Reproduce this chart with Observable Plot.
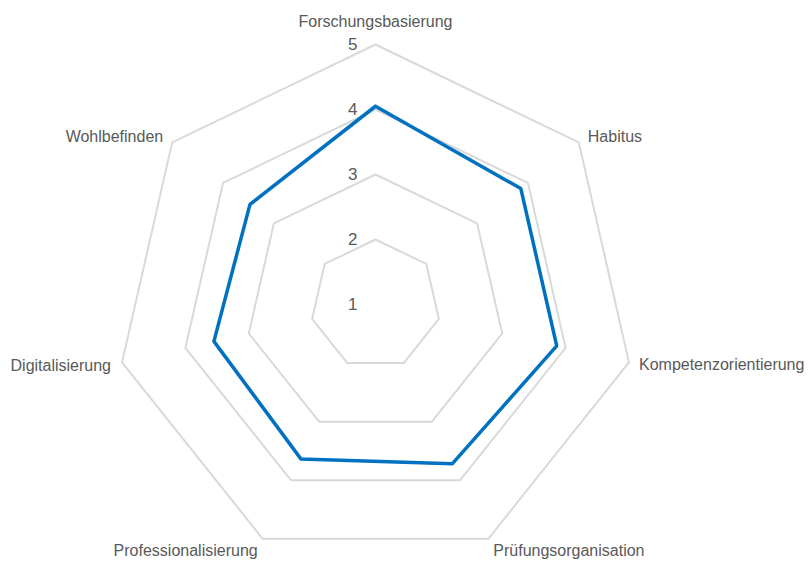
<!DOCTYPE html>
<html>
<head>
<meta charset="utf-8">
<script src="https://cdn.jsdelivr.net/npm/d3@7"></script>
<script src="https://cdn.jsdelivr.net/npm/@observablehq/plot@0.6"></script>
<style>
  html, body { margin: 0; padding: 0; background: #ffffff; }
  #chart svg { display: block; }
</style>
</head>
<body>
<div id="chart"></div>
<script>
const categories = ["Forschungsbasierung", "Habitus", "Kompetenzorientierung", "Prüfungsorganisation", "Professionalisierung", "Digitalisierung", "Wohlbefinden"];
const values = [4.05, 3.86, 3.86, 3.72, 3.64, 3.55, 3.47];
const tickValues = [1, 2, 3, 4, 5];
const gridLevels = [2, 3, 4, 5];
const axisMin = 1;
const axisMax = 5;

const n = categories.length;
const angle = i => (2 * Math.PI * i) / n;
const px = (v, i) => (v - axisMin) * Math.sin(angle(i));
const py = (v, i) => (v - axisMin) * Math.cos(angle(i));

// grid polygons
const gridRows = [];
for (const level of gridLevels) {
  for (let i = 0; i <= n; i++) {
    const k = i % n;
    gridRows.push({level, x: px(level, k), y: py(level, k)});
  }
}

// series
const seriesRows = [];
for (let i = 0; i <= n; i++) {
  const k = i % n;
  seriesRows.push({cat: categories[k], x: px(values[k], k), y: py(values[k], k)});
}

// category labels at outer ring
const labelRows = categories.map((c, i) => ({cat: c, i, x: px(axisMax, i), y: py(axisMax, i)}));
const labelStyle = [
  {anchor: "middle", dx: 0, dy: -23},
  {anchor: "start", dx: 9, dy: -6},
  {anchor: "start", dx: 10, dy: 3},
  {anchor: "start", dx: 5, dy: 12},
  {anchor: "end", dx: -5, dy: 12},
  {anchor: "end", dx: -11, dy: 4},
  {anchor: "end", dx: -9, dy: -6}
];

const font = "'Liberation Sans', Arial, sans-serif";
const textColor = "#595959";

const labelMarks = labelRows.map((r, i) => Plot.text([r], {
  x: "x", y: "y", text: "cat",
  textAnchor: labelStyle[i].anchor,
  dx: labelStyle[i].dx, dy: labelStyle[i].dy,
  fill: textColor, fontSize: 16, fontFamily: font
}));

const chart = Plot.plot({
  width: 809,
  height: 561,
  margin: 0,
  x: {type: "linear", domain: [0, axisMax - axisMin], range: [375, 375 + 260], axis: null},
  y: {type: "linear", domain: [0, axisMax - axisMin], range: [304, 44], axis: null},
  style: {background: "#ffffff", fontFamily: font},
  marks: [
    Plot.line(gridRows, {x: "x", y: "y", z: "level", stroke: "#d9d9d9", strokeWidth: 2, curve: "linear"}),
    Plot.line(seriesRows, {x: "x", y: "y", stroke: "#0070c0", strokeWidth: 3.5, strokeLinejoin: "miter", curve: "linear"}),
    Plot.text(tickValues, {
      x: d => 0, y: d => d - axisMin, text: d => String(d),
      textAnchor: "end", dx: -18, fill: textColor, fontSize: 17, fontFamily: font
    }),
    ...labelMarks
  ]
});

document.getElementById("chart").appendChild(chart);
</script>
</body>
</html>
